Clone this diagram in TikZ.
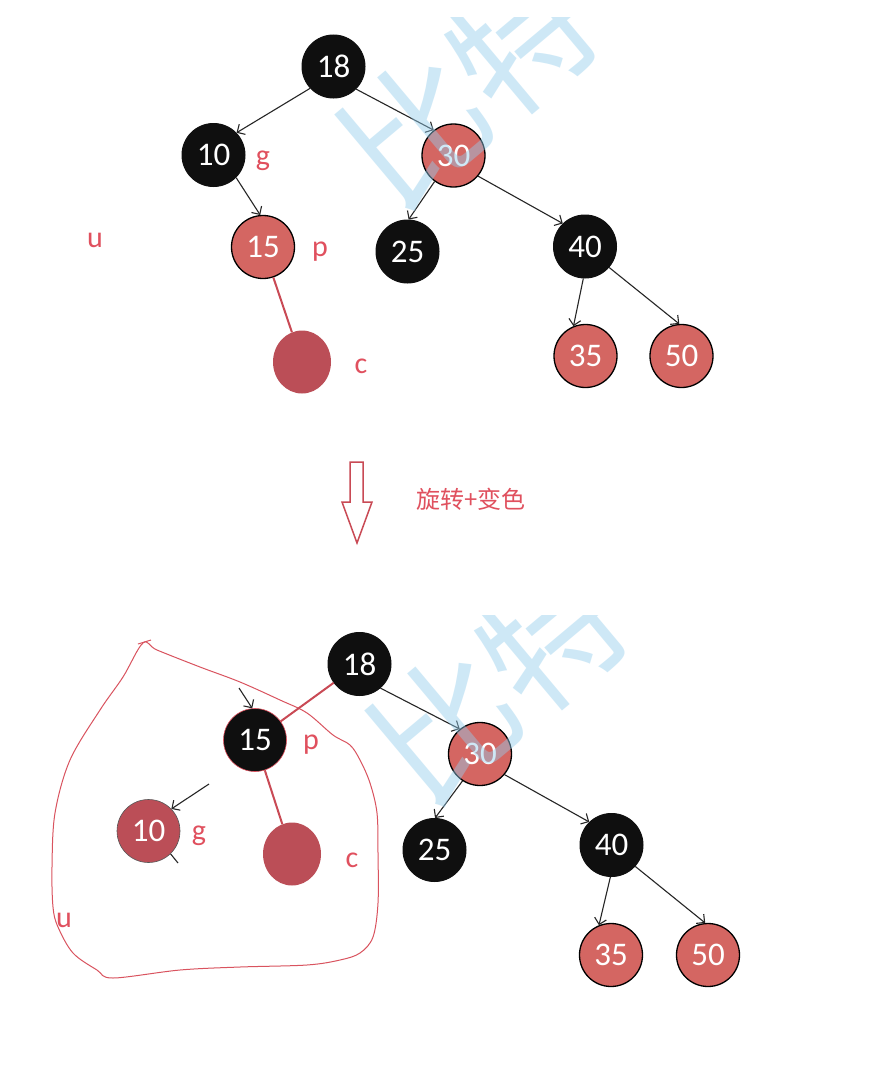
\documentclass[tikz,border=0pt]{standalone}
\usepackage{fontspec}
\setmainfont{Carlito}
\newfontfamily\cjk{Noto Sans CJK SC}
\usetikzlibrary{arrows.meta,shapes.geometric}
\definecolor{blk}{HTML}{0F0F0F}
\definecolor{rnode}{HTML}{D46662}
\definecolor{dred}{HTML}{BB4E57}
\definecolor{lred}{HTML}{E0505E}
\definecolor{lred2}{HTML}{C94A55}
\definecolor{outl}{HTML}{D9535F}
\definecolor{wm}{HTML}{94CEED}
\begin{document}
\begin{tikzpicture}[x=1pt,y=-1pt]
\tikzset{
 bn/.style={circle, fill=blk, draw=blk, line width=1pt, minimum size=63pt, inner sep=0pt, text=white, font=\fontsize{33}{33}\selectfont},
 rn/.style={bn, fill=rnode, draw=black, line width=1.3pt},
 cn/.style={ellipse, fill=dred, minimum width=58pt, minimum height=63pt, inner sep=0pt},
 lab/.style={text=lred, font=\fontsize{30}{30}\selectfont, inner sep=0pt},
 arr/.style={draw=black!85, line width=1.1pt, -{Straight Barb[length=6pt,width=12pt]}},
 rline/.style={draw=lred2, line width=2pt},
 wmark/.style={rotate=40, text=wm, opacity=0.45, font=\cjk\fontsize{140}{140}\selectfont, inner sep=0pt},
}
\useasboundingbox (0,0) rectangle (875,1068);
\fill[white] (0,0) rectangle (875,1068);

% ---------- top tree ----------
\node[bn] (a18) at (333.5,66.5) {18};
\node[bn] (a10) at (213.5,155) {10};
\node[rn] (a30) at (453.5,155.5) {30};
\node[rn] (a15) at (263,247) {15};
\node[bn] (a25) at (407.5,251.5) {25};
\node[bn] (a40) at (585,246.5) {40};
\node[rn] (a35) at (585.5,356) {35};
\node[rn] (a50) at (681.5,356) {50};
\node[cn] (ac) at (302,362) {};

\node[lab] (ag) at (263,161) {g};
\node[lab] (ap) at (320,252) {p};
\node[lab] (au) at (95,240) {u};
\node[lab] (acl) at (361,366) {c};

\draw[arr] (a18.223) -- (a10.44);
\draw[arr] (a18.315) -- (a30.128);
\draw[arr] (a10.315) -- (a15.95);
\draw[arr] (a30.234) -- (a25.88);
\draw[arr] (a30.320) -- (a40.134);
\draw[arr] (a40.267) -- (a35.112);
\draw[arr] (a40.319) -- (a50.94);
\draw[rline] (a15) -- (ac);

% ---------- middle arrow ----------
\draw[draw=lred2, line width=1.5pt, fill=white, line join=miter]
  (350,462) -- (363,462) -- (363,502) -- (372,502) -- (357,543) -- (342,502) -- (350,502) -- cycle;
\node[text=lred, font=\cjk\fontsize{24}{24}\selectfont, inner sep=0pt] (op) at (471,499) {旋转+变色};

% ---------- bottom tree ----------
\draw[draw=outl, line width=1pt] plot[smooth cycle, tension=0.55] coordinates {
 (143,643) (157,650) (200,667) (240,682) (280,700) (307,713) (333,735) (350,745)
 (360,760) (370,783) (377,813) (378,853) (378,903) (373,937) (360,953) (340,960)
 (307,965) (240,967) (180,970) (113,978) (97,970) (73,953) (58,927) (53,907)
 (52,867) (55,813) (70,760) (100,710) (123,677)};
\draw[draw=outl, line width=1pt] (138,644) -- (151,640);

\node[bn] (b18) at (359.5,664) {18};
\node[bn, draw=lred, line width=0.6pt] (b15) at (255,740) {15};
\node[bn, fill=dred, draw=blk!70, line width=0.6pt] (b10) at (148.5,831) {10};
\node[cn] (bc) at (292,854) {};
\node[rn] (b30) at (480,754) {30};
\node[bn] (b25) at (434.5,850) {25};
\node[bn] (b40) at (611.5,845) {40};
\node[rn] (b35) at (611,955) {35};
\node[rn] (b50) at (708,955) {50};

\node[lab] (bp) at (311,745) {p};
\node[lab] (bg) at (199,836) {g};
\node[lab] (bcl) at (352,860) {c};
\node[lab] (bu) at (64,920) {u};

\draw[rline] (b18) -- (b15);
\draw[rline] (b15) -- (bc);
\draw[arr] (b18.311) -- (b30.129);
\draw[arr] (b30.237) -- (b25.89);
\draw[arr] (b30.320) -- (b40.134);
\draw[arr] (b40.268) -- (b35.112);
\draw[arr] (b40.318) -- (b50.95);

\coordinate (s1) at (239,688);
\coordinate (s2) at (209,784);
\coordinate (s3) at (178,863);
\draw[arr] (s1) -- (b15.95);
\draw[arr] (s2) -- (b10.44);
\draw[draw=black!85, line width=1.1pt] (b10.314) -- (s3);

% ---------- watermarks ----------
\begin{scope}
\clip (300,17) rectangle (640,240);
\node[wmark] (wm1) at (468,85) {比特};
\end{scope}
\begin{scope}
\clip (330,615) rectangle (660,830);
\node[wmark] (wm2) at (498,681) {比特};
\end{scope}
\end{tikzpicture}
\end{document}
